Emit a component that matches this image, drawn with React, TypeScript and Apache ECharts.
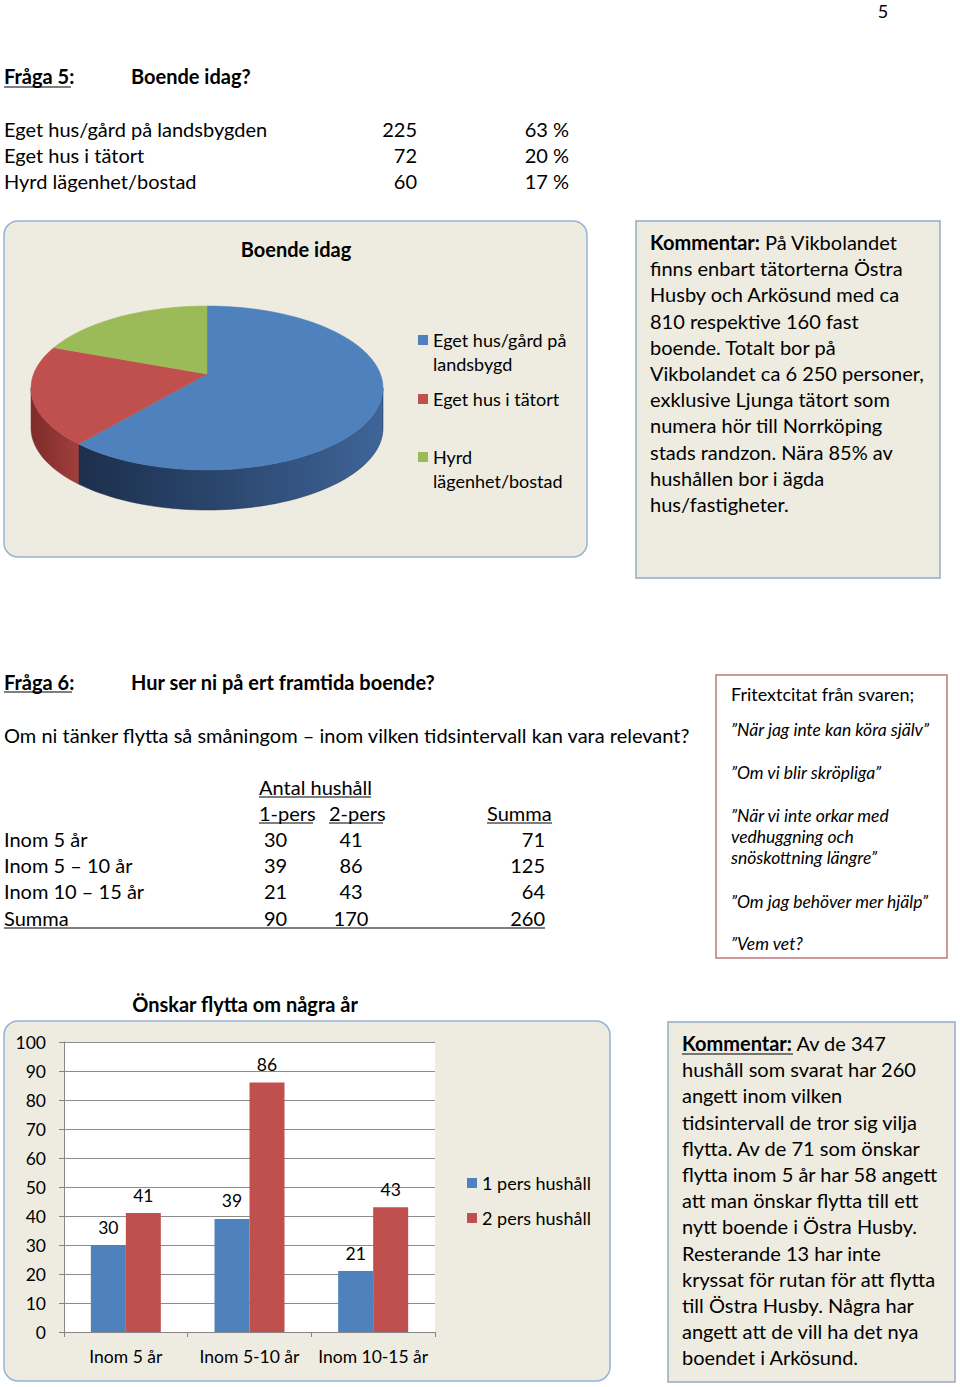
import React, { useEffect, useRef } from "react";
import * as echarts from "echarts";

// ---------- data ----------
const pieLabels = ["Eget hus/gård på landsbygden", "Eget hus i tätort", "Hyrd lägenhet/bostad"];
const pieCounts = [225, 72, 60];
const piePercents = ["63 %", "20 %", "17 %"];
const pieLegendLines = [["Eget hus/gård på", "landsbygd"], ["Eget hus i tätort"], ["Hyrd", "lägenhet/bostad"]];
const pieColors = ["#4f81bd", "#c0504d", "#9bbb59"];

const tableRows = ["Inom 5 år", "Inom 5 – 10 år", "Inom 10 – 15 år", "Summa"];
const table1Pers = [30, 39, 21, 90];
const table2Pers = [41, 86, 43, 170];
const tableSum = [71, 125, 64, 260];

const barCategories = ["Inom 5 år", "Inom 5-10 år", "Inom 10-15 år"];
const onePers = [30, 39, 21];
const twoPers = [41, 86, 43];
const seriesNames = ["1 pers hushåll", "2 pers hushåll"];

const comment1 = [
  "{b|Kommentar:} På Vikbolandet",
  "finns enbart tätorterna Östra",
  "Husby och Arkösund med ca",
  "810 respektive 160 fast",
  "boende. Totalt bor på",
  "Vikbolandet ca 6 250 personer,",
  "exklusive Ljunga tätort som",
  "numera hör till Norrköping",
  "stads randzon. Nära 85% av",
  "hushållen bor i ägda",
  "hus/fastigheter.",
];
const comment2 = [
  "{b|Kommentar:} Av de 347",
  "hushåll som svarat har 260",
  "angett inom vilken",
  "tidsintervall de tror sig vilja",
  "flytta. Av de 71 som önskar",
  "flytta inom 5 år har 58 angett",
  "att man önskar flytta till ett",
  "nytt boende i Östra Husby.",
  "Resterande 13 har inte",
  "kryssat för rutan för att flytta",
  "till Östra Husby. Några har",
  "angett att de vill ha det nya",
  "boendet i Arkösund.",
];
const quotes = [
  "”När jag inte kan köra själv”",
  "”Om vi blir skröpliga”",
  "”När vi inte orkar med",
  "vedhuggning och",
  "snöskottning längre”",
  "”Om jag behöver mer hjälp”",
  "”Vem vet?",
];
const quoteY = [729, 772, 815, 836, 857, 901, 943];

const F = 'Lato, "Open Sans", sans-serif';

function buildGraphic() {
  const el: any[] = [];
  const txt = (text: string, x: number, y: number, o: any = {}) => {
    const style: any = {
      text,
      x: 0,
      y: 0,
      fontFamily: F,
      fontSize: o.size || 20,
      fontWeight: o.bold ? "bold" : "normal",
      fontStyle: o.italic ? "italic" : "normal",
      fill: "#000",
      align: o.align || "left",
      verticalAlign: "middle",
    };
    if (o.rich) style.rich = o.rich;
    el.push({ type: "text", x, y, z: 10, style });
  };
  const uline = (x1: number, x2: number, y: number) =>
    el.push({ type: "line", z: 10, shape: { x1, y1: y, x2, y2: y }, style: { stroke: "#000", lineWidth: 1.2 } });
  const box = (x: number, y: number, w: number, h: number, r: number, stroke: string, fill: string) =>
    el.push({ type: "rect", z: -5, shape: { x, y, width: w, height: h, r }, style: { fill, stroke, lineWidth: 1.5 } });

  // page number
  txt("5", 883, 11, { size: 18, align: "center" });

  // Fråga 5
  txt("Fråga 5:", 4, 76, { bold: true });
  uline(4, 71, 87);
  txt("Boende idag?", 131, 76, { bold: true });
  const rowY = [129, 155, 181];
  pieLabels.forEach((l, i) => {
    txt(l, 4, rowY[i]);
    txt(String(pieCounts[i]), 417, rowY[i], { align: "right" });
    txt(piePercents[i], 569, rowY[i], { align: "right" });
  });

  // pie box
  box(4, 221, 583, 336, 14, "#95b3d7", "#eeece1");
  txt("Boende idag", 296, 249, { bold: true, align: "center" });
  const legY = [[340, 364], [399], [457, 481]];
  pieLegendLines.forEach((lines, i) => {
    el.push({ type: "rect", z: 10, shape: { x: 418, y: legY[i][0] - 5, width: 10, height: 10 }, style: { fill: pieColors[i] } });
    lines.forEach((ln, j) => txt(ln, 433, legY[i][j], { size: 18 }));
  });

  // comment 1
  box(636, 221, 304, 357, 0, "#95a9c6", "#eeece1");
  const richB = { b: { fontFamily: F, fontSize: 20, fontWeight: "bold", fill: "#000" } };
  comment1.forEach((l, i) => txt(l, 650, 242 + i * 26.2, { rich: richB }));

  // Fråga 6
  txt("Fråga 6:", 4, 682, { bold: true });
  uline(4, 72, 692);
  txt("Hur ser ni på ert framtida boende?", 131, 682, { bold: true });
  txt("Om ni tänker flytta så småningom – inom vilken tidsintervall kan vara relevant?", 4, 735);

  txt("Antal hushåll", 259, 787);
  uline(259, 371, 797);
  txt("1-pers", 259, 813);
  uline(259, 313, 823);
  txt("2-pers", 329, 813);
  uline(329, 383, 823);
  txt("Summa", 487, 813);
  uline(487, 552, 823);
  const tY = [839, 865, 891, 918];
  tableRows.forEach((r, i) => {
    txt(r, 4, tY[i]);
    txt(String(table1Pers[i]), 264, tY[i]);
    txt(String(table2Pers[i]), 351, tY[i], { align: "center" });
    txt(String(tableSum[i]), 545, tY[i], { align: "right" });
  });
  uline(4, 545, 928);

  // free text box
  box(716, 675, 231, 283, 0, "#c0777a", "#ffffff");
  txt("Fritextcitat från svaren;", 731, 694, { size: 18 });
  quotes.forEach((q, i) => txt(q, 731, quoteY[i], { size: 17.5, italic: true }));

  // bar chart box
  txt("Önskar flytta om några år", 245, 1004, { bold: true, align: "center" });
  box(4, 1021, 606, 360, 14, "#95b3d7", "#eeece1");
  el.push({ type: "rect", z: -3, shape: { x: 64, y: 1042, width: 371, height: 290 }, style: { fill: "#ffffff" } });

  // comment 2
  box(668, 1022, 287, 360, 0, "#95a9c6", "#eeece1");
  const richB2 = { b: { fontFamily: F, fontSize: 20, fontWeight: "bold", fill: "#000" } };
  comment2.forEach((l, i) => txt(l, 682, 1043 + i * 26.2, { rich: richB2 }));
  uline(682, 793, 1054);

  return el;
}

// 3D-looking pie drawn from pieCounts
const PIE = { cx: 207, cy: 388, rx: 176, ry: 82, depth: 40, apexDy: -14 };
function pieRender(params: any) {
  const i = params.dataIndex;
  const total = pieCounts.reduce((a, b) => a + b, 0);
  let start = 0;
  for (let k = 0; k < i; k++) start += pieCounts[k];
  const a0 = (start / total) * Math.PI * 2;
  const a1 = ((start + pieCounts[i]) / total) * Math.PI * 2;
  const pt = (t: number, dz = 0) => [PIE.cx + PIE.rx * Math.sin(t), PIE.cy - PIE.ry * Math.cos(t) + dz];
  const arc = (s: number, e: number, dz = 0) => {
    const n = Math.max(2, Math.ceil(((e - s) / (Math.PI * 2)) * 160));
    const out: number[][] = [];
    for (let k = 0; k <= n; k++) out.push(pt(s + ((e - s) * k) / n, dz));
    return out;
  };
  const children: any[] = [];
  const w0 = Math.max(a0, Math.PI / 2);
  const w1 = Math.min(a1, (Math.PI * 3) / 2);
  const dark = [
    ["#3f6599", "#2c4870", "#1c2f4c"],
    ["#a13f3c", "#8f3533", "#7d2d2b"],
    ["#7d9a45", "#6d873c", "#5d7433"],
  ][i];
  if (w1 > w0) {
    const top = arc(w0, w1);
    const bot = arc(w0, w1, PIE.depth).reverse();
    children.push({
      type: "polygon",
      shape: { points: top.concat(bot) },
      style: {
        fill: {
          type: "linear", x: 1, y: 0, x2: 0, y2: 0,
          colorStops: [{ offset: 0, color: dark[0] }, { offset: 0.5, color: dark[1] }, { offset: 1, color: dark[2] }],
        },
        stroke: dark[2],
        lineWidth: 0.5,
      },
    });
  }
  const faces = [[PIE.cx, PIE.cy + PIE.apexDy]].concat(arc(a0, a1));
  children.push({
    type: "polygon",
    shape: { points: faces },
    style: { fill: pieColors[i], stroke: pieColors[i], lineWidth: 0.5 },
  });
  return { type: "group", children };
}

export default function App() {
  const ref = useRef<HTMLDivElement>(null);
  useEffect(() => {
    if (!ref.current) return;
    const chart = echarts.init(ref.current, null, { renderer: "svg" });
    chart.setOption({
      animation: false,
      backgroundColor: "#ffffff",
      graphic: buildGraphic(),
      legend: {
        data: seriesNames,
        orient: "vertical",
        left: 467,
        top: 1173,
        padding: 0,
        itemWidth: 10,
        itemHeight: 10,
        itemGap: 15,
        icon: "rect",
        textStyle: { fontFamily: F, fontSize: 18, color: "#000", lineHeight: 20 },
      },
      grid: { left: 64, top: 1042, width: 371, height: 290, containLabel: false },
      xAxis: {
        type: "category",
        data: barCategories,
        axisLine: { lineStyle: { color: "#868686", width: 1 } },
        axisTick: { show: true, length: 5, lineStyle: { color: "#868686" } },
        axisLabel: { fontFamily: F, fontSize: 17.5, color: "#000", margin: 15, interval: 0 },
      },
      yAxis: {
        type: "value",
        min: 0,
        max: 100,
        interval: 10,
        axisLine: { show: true, lineStyle: { color: "#868686", width: 1 } },
        axisTick: { show: true, length: 5, lineStyle: { color: "#868686" } },
        axisLabel: { fontFamily: F, fontSize: 17.5, color: "#000", margin: 18 },
        splitLine: { show: true, lineStyle: { color: "#8c8c8c", width: 1 } },
      },
      series: [
        {
          name: seriesNames[0],
          type: "bar",
          data: onePers,
          barWidth: 35,
          barGap: "0%",
          itemStyle: { color: "#4f81bd" },
          label: { show: true, position: "top", distance: 9, fontFamily: F, fontSize: 17.5, color: "#000" },
        },
        {
          name: seriesNames[1],
          type: "bar",
          data: twoPers,
          barWidth: 35,
          itemStyle: { color: "#c0504d" },
          label: { show: true, position: "top", distance: 9, fontFamily: F, fontSize: 17.5, color: "#000" },
        },
        {
          type: "custom",
          coordinateSystem: "none",
          data: pieCounts.map((v) => v),
          renderItem: pieRender,
          silent: true,
        },
      ],
    });
    return () => chart.dispose();
  }, []);
  return <div ref={ref} style={{ position: "absolute", left: 0, top: 0, width: 960, height: 1387 }} />;
}
